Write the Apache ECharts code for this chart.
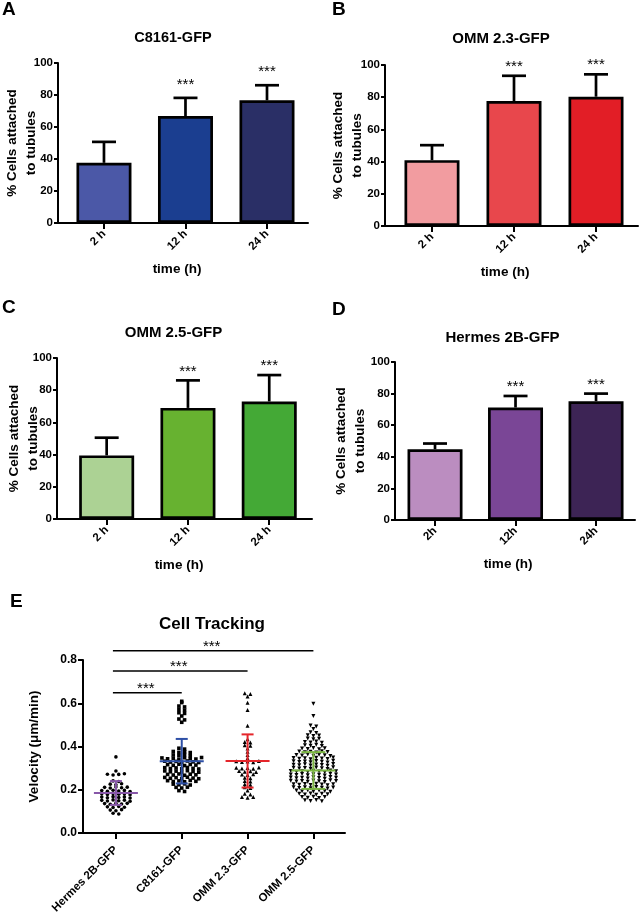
<!DOCTYPE html>
<html><head><meta charset="utf-8">
<script src="https://cdn.jsdelivr.net/npm/echarts@6/dist/echarts.min.js"></script>
<style>html,body{margin:0;padding:0;background:#fff}#c{width:641px;height:919px}</style>
</head><body><div id="c"></div>
<script>
// ---------------- DATA ----------------
const timeLabelsABC = ['2 h', '12 h', '24 h'];
const timeLabelsD = ['2h', '12h', '24h'];

const c8161Attached = [37.6, 66.8, 76.7];
const c8161Err = [13.1, 11.4, 9.4];
const omm23Attached = [40.9, 77.6, 80.3];
const omm23Err = [9.3, 15.7, 13.9];
const omm25Attached = [39.5, 69.0, 73.0];
const omm25Err = [11.0, 17.1, 16.4];
const hermesAttached = [44.8, 71.2, 75.2];
const hermesErr = [3.6, 7.3, 4.8];
const attachStars = ['', '***', '***'];

const cellLines = ['Hermes 2B-GFP', 'C8161-GFP', 'OMM 2.3-GFP', 'OMM 2.5-GFP'];
const hermesVelocity = [
  0.352, 0.287,
  0.272, 0.268, 0.271, 0.274,
  0.241, 0.238,
  0.226, 0.223, 0.228,
  0.211, 0.208, 0.213, 0.209, 0.212,
  0.196, 0.193, 0.198, 0.194, 0.197, 0.192,
  0.181, 0.178, 0.183, 0.179, 0.182, 0.177,
  0.166, 0.163, 0.168, 0.164, 0.167, 0.162,
  0.151, 0.148, 0.153, 0.149, 0.152, 0.147,
  0.136, 0.133, 0.138, 0.134, 0.137,
  0.121, 0.118, 0.123, 0.119,
  0.106, 0.103, 0.108,
  0.091, 0.088
];
const c8161Velocity = [
  0.609, 0.603, 0.587, 0.583, 0.572, 0.568, 0.556, 0.553, 0.541, 0.527, 0.523, 0.512,
  0.392, 0.388,
  0.377, 0.373, 0.376, 0.372,
  0.361, 0.358, 0.363, 0.357,
  0.347, 0.343, 0.346, 0.341, 0.348, 0.344, 0.342, 0.349,
  0.332, 0.328, 0.331, 0.327, 0.333, 0.329, 0.326,
  0.316, 0.313, 0.318, 0.312, 0.317, 0.314,
  0.302, 0.298, 0.301, 0.297, 0.303, 0.299, 0.296,
  0.287, 0.283, 0.286, 0.282, 0.288, 0.284, 0.281,
  0.271, 0.268, 0.273, 0.267, 0.272, 0.269,
  0.257, 0.253, 0.256, 0.252, 0.258, 0.254, 0.251,
  0.242, 0.238, 0.241, 0.237, 0.243, 0.239,
  0.226, 0.223, 0.227, 0.222,
  0.211, 0.208, 0.212,
  0.196, 0.192
];
const omm23Velocity = [
  0.646, 0.643, 0.631, 0.602, 0.569, 0.496,
  0.434, 0.421, 0.418, 0.406, 0.403, 0.391, 0.376, 0.361, 0.346,
  0.332, 0.328, 0.331, 0.327, 0.333,
  0.302, 0.298, 0.301, 0.297, 0.303,
  0.287, 0.283, 0.286, 0.282,
  0.271, 0.268, 0.272,
  0.256, 0.253, 0.241, 0.238, 0.226, 0.223, 0.211, 0.208,
  0.196, 0.181, 0.178, 0.166, 0.163, 0.167
];
const omm25Velocity = [
  0.598, 0.541, 0.497, 0.493, 0.481, 0.466, 0.463,
  0.452, 0.448, 0.451,
  0.437, 0.433, 0.436,
  0.421, 0.418, 0.423, 0.417,
  0.406, 0.403, 0.408, 0.402,
  0.391, 0.388, 0.393, 0.387, 0.392,
  0.377, 0.373, 0.376, 0.372, 0.378, 0.374,
  0.361, 0.358, 0.363, 0.357, 0.362, 0.359, 0.356,
  0.347, 0.343, 0.346, 0.341, 0.348, 0.344, 0.342, 0.349,
  0.332, 0.328, 0.331, 0.327, 0.333, 0.329, 0.326, 0.334,
  0.316, 0.313, 0.318, 0.312, 0.317, 0.314, 0.311, 0.319,
  0.302, 0.298, 0.301, 0.297, 0.303, 0.299, 0.296, 0.304,
  0.287, 0.283, 0.286, 0.282, 0.288, 0.284, 0.281, 0.289, 0.285,
  0.271, 0.268, 0.273, 0.267, 0.272, 0.269, 0.266, 0.274, 0.270,
  0.257, 0.253, 0.256, 0.252, 0.258, 0.254, 0.251, 0.259, 0.255,
  0.242, 0.238, 0.241, 0.237, 0.243, 0.239, 0.236, 0.244, 0.240,
  0.226, 0.223, 0.227, 0.222, 0.228, 0.224, 0.221, 0.225,
  0.211, 0.208, 0.212, 0.207, 0.213, 0.209, 0.206, 0.210,
  0.196, 0.193, 0.198, 0.192, 0.197, 0.194, 0.191,
  0.181, 0.178, 0.183, 0.177, 0.182, 0.179,
  0.166, 0.163, 0.168, 0.162, 0.167,
  0.151, 0.148, 0.153, 0.147
];
const velocityMean = [0.185, 0.332, 0.333, 0.289];
const velocitySD = [0.055, 0.103, 0.123, 0.085];
const sigFrom = [0, 0, 0];
const sigTo = [1, 2, 3];
const sigLevel = [0.649, 0.749, 0.843];
const sigLabel = ['***', '***', '***'];

// ---------------- STYLE / LAYOUT ----------------
const FONT = '"Liberation Sans", Arial, Helvetica, sans-serif';
const barColorsA = ['#4b58a7', '#1b3e90', '#2a2f66'];
const barColorsB = ['#f29ca0', '#e8474c', '#e21e26'];
const barColorsC = ['#acd294', '#67b230', '#44a936'];
const barColorsD = ['#bb8dc0', '#7a4696', '#3d2455'];
const meanColors = ['#8757a8', '#2d4fa6', '#e5262b', '#7ab541'];
const sdCapHalf = [6, 6, 6, 12];

const grids = [], xAxes = [], yAxes = [], series = [], graphics = [];

function addBarPanel(o) {
  const gi = grids.length;
  grids.push(Object.assign({ outerBoundsMode: 'none', containLabel: false }, o.grid));
  xAxes.push({
    type: 'value', gridIndex: gi, min: o.xMin, max: o.xMax,
    splitLine: { show: false },
    axisLine: { show: true, onZero: false, lineStyle: { color: '#000', width: 2 } },
    axisTick: { show: true, length: 6, customValues: [0, 1, 2], lineStyle: { color: '#000', width: 2 } },
    axisLabel: {
      customValues: [0, 1, 2], rotate: 45, margin: 9,
      formatter: v => o.cats[Math.round(v)],
      color: '#000', fontWeight: 'bold', fontSize: 11.5, fontFamily: FONT
    },
    name: 'time (h)', nameLocation: 'middle', nameGap: o.xNameGap, nameMoveOverlap: false,
    nameTextStyle: { color: '#000', fontWeight: 'bold', fontSize: 13.5, fontFamily: FONT, padding: [0, o.xNamePad, 0, 0] }
  });
  yAxes.push({
    type: 'value', gridIndex: gi, min: 0, max: 100, interval: 20,
    splitLine: { show: false },
    axisLine: { show: true, onZero: false, lineStyle: { color: '#000', width: 2 } },
    axisTick: { show: true, length: 4, lineStyle: { color: '#000', width: 2 } },
    axisLabel: { margin: 5, color: '#000', fontWeight: 'bold', fontSize: 11.5, fontFamily: FONT },
    name: '% Cells attached\nto tubules', nameLocation: 'middle', nameGap: o.yNameGap, nameMoveOverlap: false,
    nameTextStyle: { color: '#000', fontWeight: 'bold', fontSize: 13.5, lineHeight: 19, fontFamily: FONT, align: 'center' }
  });
  series.push({
    type: 'bar', xAxisIndex: gi, yAxisIndex: gi, barWidth: 55, z: 2,
    data: o.vals.map((v, i) => ({ value: [i, v], itemStyle: { color: o.colors[i], borderColor: '#000', borderWidth: 2.7 } }))
  });
  series.push({
    type: 'custom', xAxisIndex: gi, yAxisIndex: gi, z: 3, clip: false,
    data: o.vals.map((v, i) => [i, v, o.errs[i]]),
    renderItem: (params, api) => {
      const x = api.value(0), m = api.value(1), e = api.value(2);
      const p0 = api.coord([x, m]), p1 = api.coord([x, m + e]);
      const ch = [
        { type: 'line', shape: { x1: p0[0], y1: p0[1], x2: p1[0], y2: p1[1] }, style: { stroke: '#000', lineWidth: 2.7 } },
        { type: 'line', shape: { x1: p1[0] - 12, y1: p1[1], x2: p1[0] + 12, y2: p1[1] }, style: { stroke: '#000', lineWidth: 2.7 } }
      ];
      const s = o.stars[params.dataIndex];
      if (s) ch.push({ type: 'text', x: p1[0], y: p1[1] - o.starGap, style: { text: s, fill: '#000', font: 'normal 15px ' + FONT, align: 'center', verticalAlign: 'middle' } });
      return { type: 'group', children: ch };
    }
  });
  graphics.push({ type: 'text', x: o.title[1], y: o.title[2], style: { text: o.title[0], fill: '#000', font: 'bold ' + o.title[3] + 'px ' + FONT, align: 'center', verticalAlign: 'middle' } });
  graphics.push({ type: 'text', x: o.letter[1], y: o.letter[2], style: { text: o.letter[0], fill: '#000', font: 'bold 19px ' + FONT, align: 'left', verticalAlign: 'middle' } });
}

addBarPanel({ grid: { left: 58, top: 63, width: 250, height: 160 }, xMin: -0.564, xMax: 2.503,
  cats: timeLabelsABC, vals: c8161Attached, errs: c8161Err, stars: attachStars, colors: barColorsA, starGap: 13.5,
  xNameGap: 39, xNamePad: 12, yNameGap: 17, title: ['C8161-GFP', 173, 38, 14.5], letter: ['A', 2, 10] });
addBarPanel({ grid: { left: 385, top: 65, width: 253, height: 161 }, xMin: -0.573, xMax: 2.512,
  cats: timeLabelsABC, vals: omm23Attached, errs: omm23Err, stars: attachStars, colors: barColorsB, starGap: 9,
  xNameGap: 39, xNamePad: 13, yNameGap: 18, title: ['OMM 2.3-GFP', 501, 39, 15], letter: ['B', 332, 10] });
addBarPanel({ grid: { left: 57, top: 358, width: 255, height: 161 }, xMin: -0.611, xMax: 2.526,
  cats: timeLabelsABC, vals: omm25Attached, errs: omm25Err, stars: attachStars, colors: barColorsC, starGap: 9,
  xNameGap: 39, xNamePad: 11, yNameGap: 14, title: ['OMM 2.5-GFP', 173.5, 333, 15], letter: ['C', 2, 308] });
addBarPanel({ grid: { left: 395, top: 362, width: 240, height: 158 }, xMin: -0.497, xMax: 2.484,
  cats: timeLabelsD, vals: hermesAttached, errs: hermesErr, stars: attachStars, colors: barColorsD, starGap: 9,
  xNameGap: 37, xNamePad: 14, yNameGap: 25, title: ['Hermes 2B-GFP', 502.5, 337.5, 15], letter: ['D', 332, 310] });

// ---------------- PANEL E ----------------
const ge = grids.length;
grids.push({ left: 83, top: 660, width: 262, height: 173, outerBoundsMode: 'none', containLabel: false });
xAxes.push({
  type: 'value', gridIndex: ge, min: -0.5, max: 3.48,
  splitLine: { show: false },
  axisLine: { show: true, onZero: false, lineStyle: { color: '#000', width: 2 } },
  axisTick: { show: true, length: 6, customValues: [0, 1, 2, 3], lineStyle: { color: '#000', width: 2 } },
  axisLabel: { customValues: [0, 1, 2, 3], rotate: 45, margin: 15, formatter: v => cellLines[Math.round(v)],
    color: '#000', fontWeight: 'bold', fontSize: 11.5, fontFamily: FONT }
});
yAxes.push({
  type: 'value', gridIndex: ge, min: 0, max: 0.8, interval: 0.2,
  splitLine: { show: false },
  axisLine: { show: true, onZero: false, lineStyle: { color: '#000', width: 2 } },
  axisTick: { show: true, length: 5, lineStyle: { color: '#000', width: 2 } },
  axisLabel: { margin: 6, formatter: v => v.toFixed(1), color: '#000', fontWeight: 'bold', fontSize: 12, fontFamily: FONT },
  name: 'Velocity (\u03bcm/min)', nameLocation: 'middle', nameGap: 42, nameMoveOverlap: false,
  nameTextStyle: { color: '#000', fontWeight: 'bold', fontSize: 13.5, fontFamily: FONT }
});

function swarmPoints(vals, center, rowStep, colStep) {
  const rows = new Map();
  vals.forEach(v => { const k = Math.round(v / rowStep); if (!rows.has(k)) rows.set(k, []); rows.get(k).push(v); });
  const pts = [];
  rows.forEach(list => { const n = list.length; list.forEach((v, j) => pts.push([center + (j - (n - 1) / 2) * colStep, v])); });
  return pts;
}
const velGroups = [hermesVelocity, c8161Velocity, omm23Velocity, omm25Velocity];
const velSymbols = [['circle', 3.6, 0], ['rect', 3.6, 0], ['triangle', 4, 0], ['triangle', 4, 180]];
velGroups.forEach((vals, i) => {
  series.push({
    type: 'scatter', xAxisIndex: ge, yAxisIndex: ge, z: 2,
    symbol: velSymbols[i][0], symbolSize: velSymbols[i][1], symbolRotate: velSymbols[i][2],
    itemStyle: { color: '#000', opacity: 1 },
    data: swarmPoints(vals, i, 0.015, 0.086)
  });
});
series.push({
  type: 'custom', xAxisIndex: ge, yAxisIndex: ge, z: 4, clip: false,
  data: velocityMean.map((m, i) => [i, m, velocitySD[i]]),
  renderItem: (params, api) => {
    const i = api.value(0), m = api.value(1), sd = api.value(2);
    const pm = api.coord([i, m]), pt = api.coord([i, m + sd]), pb = api.coord([i, m - sd]);
    const col = meanColors[params.dataIndex], ch = sdCapHalf[params.dataIndex];
    const st = { stroke: col, lineWidth: 2 };
    return { type: 'group', children: [
      { type: 'line', shape: { x1: pm[0] - 22, y1: pm[1], x2: pm[0] + 22, y2: pm[1] }, style: st },
      { type: 'line', shape: { x1: pt[0], y1: pt[1], x2: pb[0], y2: pb[1] }, style: st },
      { type: 'line', shape: { x1: pt[0] - ch, y1: pt[1], x2: pt[0] + ch, y2: pt[1] }, style: st },
      { type: 'line', shape: { x1: pb[0] - ch, y1: pb[1], x2: pb[0] + ch, y2: pb[1] }, style: st }
    ] };
  }
});
series.push({
  type: 'custom', xAxisIndex: ge, yAxisIndex: ge, z: 4, clip: false,
  data: sigFrom.map((f, i) => [f, sigTo[i], sigLevel[i]]),
  renderItem: (params, api) => {
    const a = api.coord([api.value(0), api.value(2)]), b = api.coord([api.value(1), api.value(2)]);
    return { type: 'group', children: [
      { type: 'line', shape: { x1: a[0] - 3, y1: a[1], x2: b[0], y2: b[1] }, style: { stroke: '#000', lineWidth: 1.5 } },
      { type: 'text', x: (a[0] + b[0]) / 2 - 3, y: a[1] - 4, style: { text: sigLabel[params.dataIndex], fill: '#000', font: 'normal 15px ' + FONT, align: 'center', verticalAlign: 'middle' } }
    ] };
  }
});
graphics.push({ type: 'text', x: 212, y: 624, style: { text: 'Cell Tracking', fill: '#000', font: 'bold 17px ' + FONT, align: 'center', verticalAlign: 'middle' } });
graphics.push({ type: 'text', x: 10, y: 602, style: { text: 'E', fill: '#000', font: 'bold 19px ' + FONT, align: 'left', verticalAlign: 'middle' } });

const chart = echarts.init(document.getElementById('c'), null, { renderer: 'canvas' });
chart.setOption({
  backgroundColor: '#fff',
  animation: false,
  textStyle: { fontFamily: FONT },
  grid: grids, xAxis: xAxes, yAxis: yAxes, series: series,
  graphic: graphics
});
</script></body></html>
